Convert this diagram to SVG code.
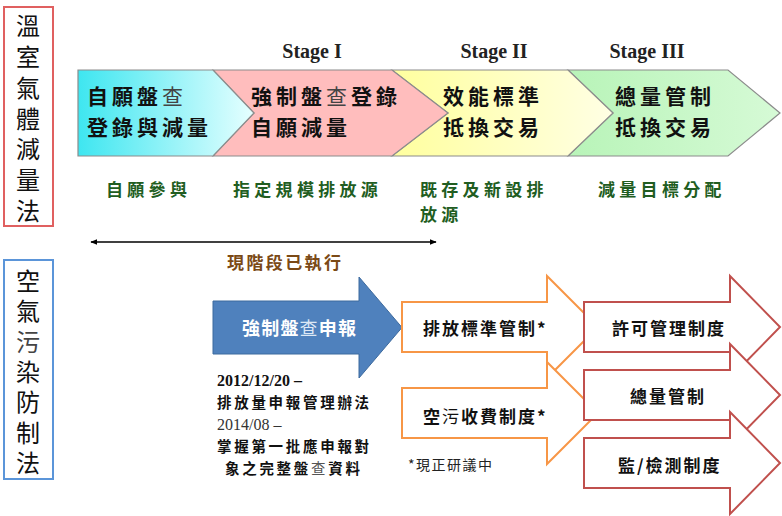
<svg xmlns="http://www.w3.org/2000/svg" width="782" height="516" viewBox="0 0 782 516">
<defs>
<linearGradient id="gCyan" x1="0" y1="0" x2="1" y2="0">
<stop offset="0" stop-color="#3ee6f0"/><stop offset="1" stop-color="#e6ffff"/>
</linearGradient>
<linearGradient id="gYellow" x1="0" y1="0" x2="1" y2="0">
<stop offset="0" stop-color="#ffff9e"/><stop offset="1" stop-color="#ffffe4"/>
</linearGradient>
<linearGradient id="gGreen" x1="0" y1="0" x2="1" y2="0">
<stop offset="0" stop-color="#b8f4b8"/><stop offset="1" stop-color="#d6fad6"/>
</linearGradient>
<marker id="ah" viewBox="0 0 10 10" refX="9" refY="5" markerWidth="7" markerHeight="7" markerUnits="userSpaceOnUse" orient="auto-start-reverse">
<path d="M0,1 L10,5 L0,9 Z" fill="#000"/>
</marker>
<style>
.cjk{font-family:"Noto Sans CJK TC","Noto Sans CJK SC",sans-serif;}
.col{font-size:24px;fill:#111;writing-mode:vertical-rl;text-orientation:upright;}
.chev{stroke:#8c8c8c;stroke-width:1.2;}
.ct{font-size:21px;font-weight:bold;fill:#111;letter-spacing:4px;}
.lt{font-weight:normal;fill:#444;}
.stage{font-family:"Liberation Serif",serif;font-weight:bold;font-size:20px;fill:#222;text-anchor:middle;}
.gt{font-size:17px;font-weight:bold;fill:#215d21;letter-spacing:4.3px;}
.bt{font-size:17px;font-weight:bold;fill:#111;letter-spacing:2px;}
.orange{fill:#fff;stroke:#f79646;stroke-width:2;}
.red{fill:#fff;stroke:#c0504d;stroke-width:2;}
.note{font-size:14.5px;font-weight:bold;fill:#111;letter-spacing:2.7px;}
.date{font-family:"Liberation Serif",serif;font-size:16px;}
</style>
</defs>
<rect width="782" height="516" fill="#fff"/>

<g id="law-ghg">
<rect x="4" y="7" width="49" height="219" fill="#fff" stroke="#e06060" stroke-width="2"/>
<text class="cjk col" x="28" y="14" letter-spacing="6.8">溫室氣體減量法</text>
</g>

<g id="law-air">
<rect x="4" y="260" width="49" height="219" fill="#fff" stroke="#5b95d9" stroke-width="2"/>
<text class="cjk col" x="28" y="269" letter-spacing="6.3">空氣<tspan fill="#444">污</tspan>染防制法</text>
</g>

<g id="stage-labels">
<text class="stage" x="312" y="58">Stage I</text>
<text class="stage" x="494" y="58">Stage II</text>
<text class="stage" x="647" y="58">Stage III</text>
</g>

<g id="chevron-green">
<polygon class="chev" points="568,70 728,70 780,113 728,156 568,156 613,113" fill="url(#gGreen)"/>
<text class="cjk ct" x="615" y="104">總量管制</text>
<text class="cjk ct" x="615" y="134.5">抵換交易</text>
</g>
<g id="chevron-yellow">
<polygon class="chev" points="392,70 568,70 613,113 568,156 392,156 448,113" fill="url(#gYellow)"/>
<text class="cjk ct" x="443" y="104">效能標準</text>
<text class="cjk ct" x="443" y="134.5">抵換交易</text>
</g>
<g id="chevron-pink">
<polygon class="chev" points="213,70 392,70 448,113 392,156 213,156 254,113" fill="#ffbdbd"/>
<text class="cjk ct" x="251" y="104">強制盤<tspan class="lt">查</tspan>登錄</text>
<text class="cjk ct" x="251" y="134.5">自願減量</text>
</g>
<g id="chevron-cyan">
<polygon class="chev" points="78,70 213,70 254,113 213,156 78,156" fill="url(#gCyan)"/>
<text class="cjk ct" x="87" y="104">自願盤<tspan class="lt">查</tspan></text>
<text class="cjk ct" x="87" y="134.5">登錄與減量</text>
</g>

<g id="targets">
<text class="cjk gt" x="106" y="196">自願參與</text>
<text class="cjk gt" x="233" y="196">指定規模排放源</text>
<text class="cjk gt" x="420" y="196">既存及新設排</text>
<text class="cjk gt" x="420" y="221">放源</text>
<text class="cjk gt" x="598" y="196">減量目標分配</text>
</g>

<g id="connectors">
<line x1="91" y1="242" x2="436" y2="242" stroke="#000" stroke-width="1.3" marker-start="url(#ah)" marker-end="url(#ah)"/>
</g>
<text class="cjk" x="227" y="269" font-size="17" font-weight="bold" fill="#7b4a16" letter-spacing="2.4">現階段已執行</text>

<g id="blue-arrow">
<path d="M213,301 H359 V277 L402,327.5 L359,378 V354 H213 Z" fill="#4f81bd" stroke="#3d6a9e" stroke-width="1"/>
<text class="cjk" x="242" y="335" font-size="18" font-weight="bold" fill="#fff" letter-spacing="1.2">強制盤<tspan font-weight="normal" fill="#dde8f5">查</tspan>申報</text>
</g>

<g id="notes">
<text class="date" x="217" y="386" font-weight="bold" fill="#111">2012/12/20 –</text>
<text class="cjk note" x="217" y="408">排放量申報管理辦法</text>
<text class="date" x="217" y="430" fill="#333">2014/08 –</text>
<text class="cjk note" x="217" y="452">掌握第一批應申報對</text>
<text class="cjk note" x="225" y="474">象之完整盤<tspan font-weight="normal" fill="#555">查</tspan>資料</text>
</g>

<g id="orange-emission-std">
<path class="orange" d="M402,302 H547 V276 L598,327 L547,378 V352 H402 Z"/>
<text class="cjk bt" x="423" y="335">排放標準管制*</text>
</g>
<g id="orange-fee">
<path class="orange" d="M402,388 H547 V362 L598,413 L547,464 V438 H402 Z"/>
<text class="cjk bt" x="423" y="423">空<tspan font-weight="normal">污</tspan>收費制度*</text>
</g>
<text class="cjk" x="408" y="470" font-size="14" fill="#222" letter-spacing="1.5">*現正研議中</text>

<g id="red-permit">
<path class="red" d="M584,302 H730 V276 L780,327 L730,378 V352 H584 Z"/>
<text class="cjk bt" x="612" y="335">許可管理制度</text>
</g>
<g id="red-cap">
<path class="red" d="M584,370 H730 V344 L780,395 L730,446 V420 H584 Z"/>
<text class="cjk bt" x="630" y="403">總量管制</text>
</g>
<g id="red-monitor">
<path class="red" d="M584,438 H730 V412 L780,463 L730,514 V488 H584 Z"/>
<text class="cjk bt" x="618" y="472">監/檢測制度</text>
</g>
</svg>
